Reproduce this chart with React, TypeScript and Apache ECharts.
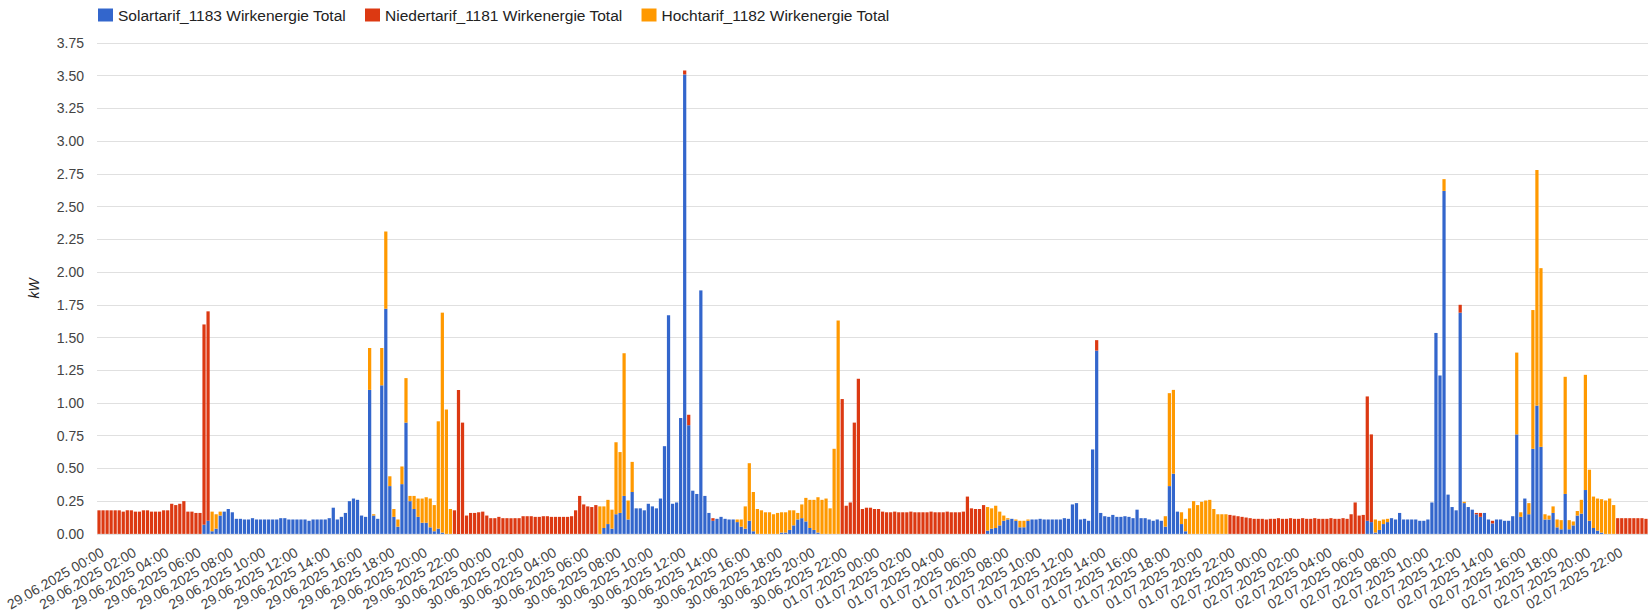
import React, { useEffect, useRef } from 'react';
import * as echarts from 'echarts';

// Days shown on the category axis (15-minute intervals, 96 per day)
const days = ['29.06.2025', '30.06.2025', '01.07.2025', '02.07.2025'];
const pad = (n: number) => (n < 10 ? '0' + n : '' + n);
const categories: string[] = days.flatMap((d) =>
  Array.from({ length: 96 }, (_, k) => `${d} ${pad(Math.floor(k / 4))}:${pad((k % 4) * 15)}`)
);

const seriesNames = [
  'Solartarif_1183 Wirkenergie Total',
  'Niedertarif_1181 Wirkenergie Total',
  'Hochtarif_1182 Wirkenergie Total',
];

// kW values, 16 bars (4 hours) per line
const solar = [
  0, 0, 0, 0, 0, 0, 0, 0, 0, 0, 0, 0, 0, 0, 0, 0,
  0, 0, 0, 0, 0, 0, 0, 0, 0, 0, .07, .10, .02, .04, .14, .17,
  .19, .165, .115, .115, .11, .11, .12, .11, .11, .11, .11, .11, .11, .12, .12, .11,
  .11, .11, .11, .11, .10, .11, .11, .11, .11, .12, .20, .11, .13, .16, .25, .27,
  .26, .14, .13, 1.10, .14, .115, 1.135, 1.72, .365, .13, .055, .38, .85, .25, .19, .13,
  .085, .085, .05, .02, .04, .01, 0, 0, 0, 0, 0, 0, 0, 0, 0, 0,
  0, 0, 0, 0, 0, 0, 0, 0, 0, 0, 0, 0, 0, 0, 0, 0,
  0, 0, 0, 0, 0, 0, 0, 0, 0, 0, 0, 0, 0, .045, .075, .04,
  .15, .16, .29, .11, .32, .195, .195, .18, .23, .21, .195, .27, .67, 1.67, .23, .24,
  .885, 3.51, .83, .33, .305, 1.86, .29, .16, .10, .115, .13, .115, .11, .11, .09, .055,
  .04, .10, .02, 0, 0, 0, 0, 0, 0, .01, .01, .03, .065, .11, .12, .095,
  .045, .03, .01, 0, 0, 0, 0, 0, 0, 0, 0, 0, 0, 0, 0, 0,
  0, 0, 0, 0, 0, 0, 0, 0, 0, 0, 0, 0, 0, 0, 0, 0,
  0, 0, 0, 0, 0, 0, 0, 0, 0, 0, 0, 0, .025, .04, .045, .065,
  .10, .11, .115, .10, .05, .05, .10, .11, .11, .115, .11, .11, .11, .11, .11, .12,
  .115, .225, .235, .11, .115, .10, .645, 1.40, .16, .135, .13, .145, .13, .13, .135, .13,
  .12, .185, .12, .12, .11, .10, .11, .10, .055, .365, .46, .17, .075, .02, 0, 0,
  0, 0, 0, 0, 0, 0, 0, 0, 0, 0, 0, 0, 0, 0, 0, 0,
  0, 0, 0, 0, 0, 0, 0, 0, 0, 0, 0, 0, 0, 0, 0, 0,
  0, 0, 0, 0, 0, 0, 0, 0, 0, 0, .10, .09, .01, .03, .075, .09,
  .12, .11, .16, .11, .11, .11, .11, .10, .10, .11, .24, 1.535, 1.21, 2.62, .30, .205,
  .18, 1.69, .235, .205, .185, .15, .13, .16, .11, .08, .11, .11, .10, .10, .135, .76,
  .13, .27, .15, .65, .98, .665, .11, .11, .16, .05, .035, .305, .035, .065, .14, .155,
  .335, .10, .045, .025, .01, 0, 0, 0, 0, 0, 0, 0, 0, 0, 0, 0,
];

const nieder = [
  .18, .18, .18, .18, .18, .18, .17, .18, .18, .17, .17, .18, .18, .17, .17, .17,
  .18, .18, .23, .22, .23, .25, .17, .17, .16, .16, 1.53, 1.60, 0, 0, 0, 0,
  0, 0, 0, 0, 0, 0, 0, 0, 0, 0, 0, 0, 0, 0, 0, 0,
  0, 0, 0, 0, 0, 0, 0, 0, 0, 0, 0, 0, 0, 0, 0, 0,
  0, 0, 0, 0, 0, 0, 0, 0, 0, 0, 0, 0, 0, 0, 0, 0,
  0, 0, 0, 0, 0, 0, 0, 0, .18, 1.10, .85, .14, .16, .16, .165, .17,
  .14, .12, .12, .13, .12, .12, .12, .12, .12, .135, .135, .135, .13, .13, .135, .135,
  .13, .13, .13, .13, .13, .135, .18, .29, .225, .21, .205, .22, 0, 0, 0, 0,
  0, 0, 0, 0, 0, 0, 0, 0, 0, 0, 0, 0, 0, 0, 0, 0,
  0, .03, .08, 0, 0, 0, 0, 0, .02, 0, 0, 0, 0, 0, 0, 0,
  0, 0, 0, 0, 0, 0, 0, 0, 0, 0, 0, 0, 0, 0, 0, 0,
  0, 0, 0, 0, 0, 0, 0, 0, 1.03, .215, .24, .85, 1.185, .19, .20, .20,
  .19, .19, .17, .165, .165, .17, .165, .165, .165, .17, .165, .165, .165, .165, .17, .165,
  .165, .165, .17, .165, .165, .165, .17, .285, .195, .19, .19, .22, 0, 0, 0, 0,
  0, 0, 0, 0, 0, 0, 0, 0, 0, 0, 0, 0, 0, 0, 0, 0,
  0, 0, 0, 0, 0, 0, 0, .08, 0, 0, 0, 0, 0, 0, 0, 0,
  0, 0, 0, 0, 0, 0, 0, 0, 0, 0, 0, 0, 0, 0, 0, 0,
  0, 0, 0, 0, 0, 0, 0, 0, .145, .14, .135, .13, .125, .12, .115, .115,
  .115, .11, .115, .115, .12, .115, .115, .12, .115, .115, .12, .115, .115, .12, .115, .115,
  .115, .12, .115, .115, .12, .115, .15, .24, .14, .145, .95, .67, 0, 0, 0, 0,
  0, 0, 0, 0, 0, 0, 0, 0, 0, 0, 0, 0, 0, 0, 0, 0,
  0, .06, 0, 0, 0, .01, .03, 0, 0, .02, 0, 0, 0, 0, 0, 0,
  0, 0, 0, 0, 0, 0, 0, 0, 0, 0, 0, 0, 0, 0, 0, 0,
  0, 0, 0, 0, 0, 0, 0, 0, .12, .12, .12, .12, .12, .12, .12, .115,
];

const hoch = [
  0, 0, 0, 0, 0, 0, 0, 0, 0, 0, 0, 0, 0, 0, 0, 0,
  0, 0, 0, 0, 0, 0, 0, 0, 0, 0, 0, 0, .15, .11, .03, 0,
  0, 0, 0, 0, 0, 0, 0, 0, 0, 0, 0, 0, 0, 0, 0, 0,
  0, 0, 0, 0, 0, 0, 0, 0, 0, 0, 0, 0, 0, 0, 0, 0,
  0, 0, 0, .32, .01, 0, .285, .59, .075, .06, .055, .135, .34, .04, .10, .14,
  .185, .195, .22, .20, .82, 1.68, .95, .19, 0, 0, 0, 0, 0, 0, 0, 0,
  0, 0, 0, 0, 0, 0, 0, 0, 0, 0, 0, 0, 0, 0, 0, 0,
  0, 0, 0, 0, 0, 0, 0, 0, 0, 0, 0, 0, .21, .165, .185, .145,
  .55, .465, 1.09, .145, .23, 0, 0, 0, 0, 0, 0, 0, 0, 0, 0, 0,
  0, 0, 0, 0, 0, 0, 0, 0, 0, 0, 0, 0, 0, 0, .02, .055,
  .17, .44, .30, .19, .18, .165, .165, .15, .16, .155, .155, .15, .115, .05, .105, .18,
  .215, .23, .27, .26, .27, .195, .65, 1.63, 0, 0, 0, 0, 0, 0, 0, 0,
  0, 0, 0, 0, 0, 0, 0, 0, 0, 0, 0, 0, 0, 0, 0, 0,
  0, 0, 0, 0, 0, 0, 0, 0, 0, 0, 0, 0, .18, .155, .17, .105,
  .04, .01, 0, .01, .05, .05, .01, 0, 0, 0, 0, 0, 0, 0, 0, 0,
  0, 0, 0, 0, 0, 0, 0, 0, 0, 0, 0, 0, 0, 0, 0, 0,
  0, 0, 0, 0, 0, 0, 0, 0, .08, .71, .64, 0, .09, .095, .195, .25,
  .22, .245, .255, .26, .19, .15, .15, .15, 0, 0, 0, 0, 0, 0, 0, 0,
  0, 0, 0, 0, 0, 0, 0, 0, 0, 0, 0, 0, 0, 0, 0, 0,
  0, 0, 0, 0, 0, 0, 0, 0, 0, 0, 0, 0, .10, .07, .035, .025,
  0, 0, 0, 0, 0, 0, 0, 0, 0, 0, 0, 0, 0, .09, 0, 0,
  0, 0, .01, 0, 0, 0, 0, 0, 0, 0, 0, 0, 0, 0, 0, .625,
  .035, 0, .085, 1.06, 1.80, 1.365, .04, .03, .05, .06, .07, .895, .07, .03, .035, .105,
  .88, .39, .24, .245, .255, .255, .27, .22, 0, 0, 0, 0, 0, 0, 0, 0,
];

const colors = ['#3366cc', '#dc3912', '#ff9900'];
const FONT = '"Liberation Sans", Arial, sans-serif';

export default function App() {
  const ref = useRef<HTMLDivElement>(null);
  useEffect(() => {
    document.body.style.margin = '0';
    const chart = echarts.init(ref.current!, null, { renderer: 'svg' });
    const values = [solar, nieder, hoch];
    chart.setOption({
      animation: false,
      textStyle: { fontFamily: FONT },
      legend: {
        left: 98,
        top: 7,
        padding: 0,
        itemWidth: 15,
        itemHeight: 13,
        itemGap: 19,
        icon: 'rect',
        textStyle: { fontSize: 15.5, color: '#222', fontFamily: FONT },
        data: seriesNames,
      },
      grid: { left: 97, right: 2, top: 43, bottom: 78 },
      xAxis: {
        type: 'category',
        data: categories,
        boundaryGap: true,
        axisLine: { show: false },
        axisTick: { show: false },
        axisLabel: {
          interval: 7,
          rotate: 30,
          fontSize: 14,
          color: '#444',
          margin: 11,
          verticalAlign: 'top',
          fontFamily: FONT,
        },
      },
      yAxis: {
        type: 'value',
        min: 0,
        max: 3.75,
        interval: 0.25,
        name: 'kW',
        nameLocation: 'middle',
        nameGap: 56,
        nameTextStyle: { fontStyle: 'italic', fontSize: 14, color: '#222', fontFamily: FONT },
        axisLabel: {
          formatter: (v: number) => v.toFixed(2),
          fontSize: 14,
          color: '#444',
          margin: 13,
          fontFamily: FONT,
        },
        splitLine: { lineStyle: { color: '#e0e0e0' } },
      },
      series: seriesNames.map((name, k) => ({
        name,
        type: 'bar',
        stack: 'total',
        barWidth: '80%',
        data: values[k],
        itemStyle: { color: colors[k] },
      })),
    });
    return () => chart.dispose();
  }, []);
  return <div ref={ref} style={{ width: 1650, height: 613 }} />;
}
